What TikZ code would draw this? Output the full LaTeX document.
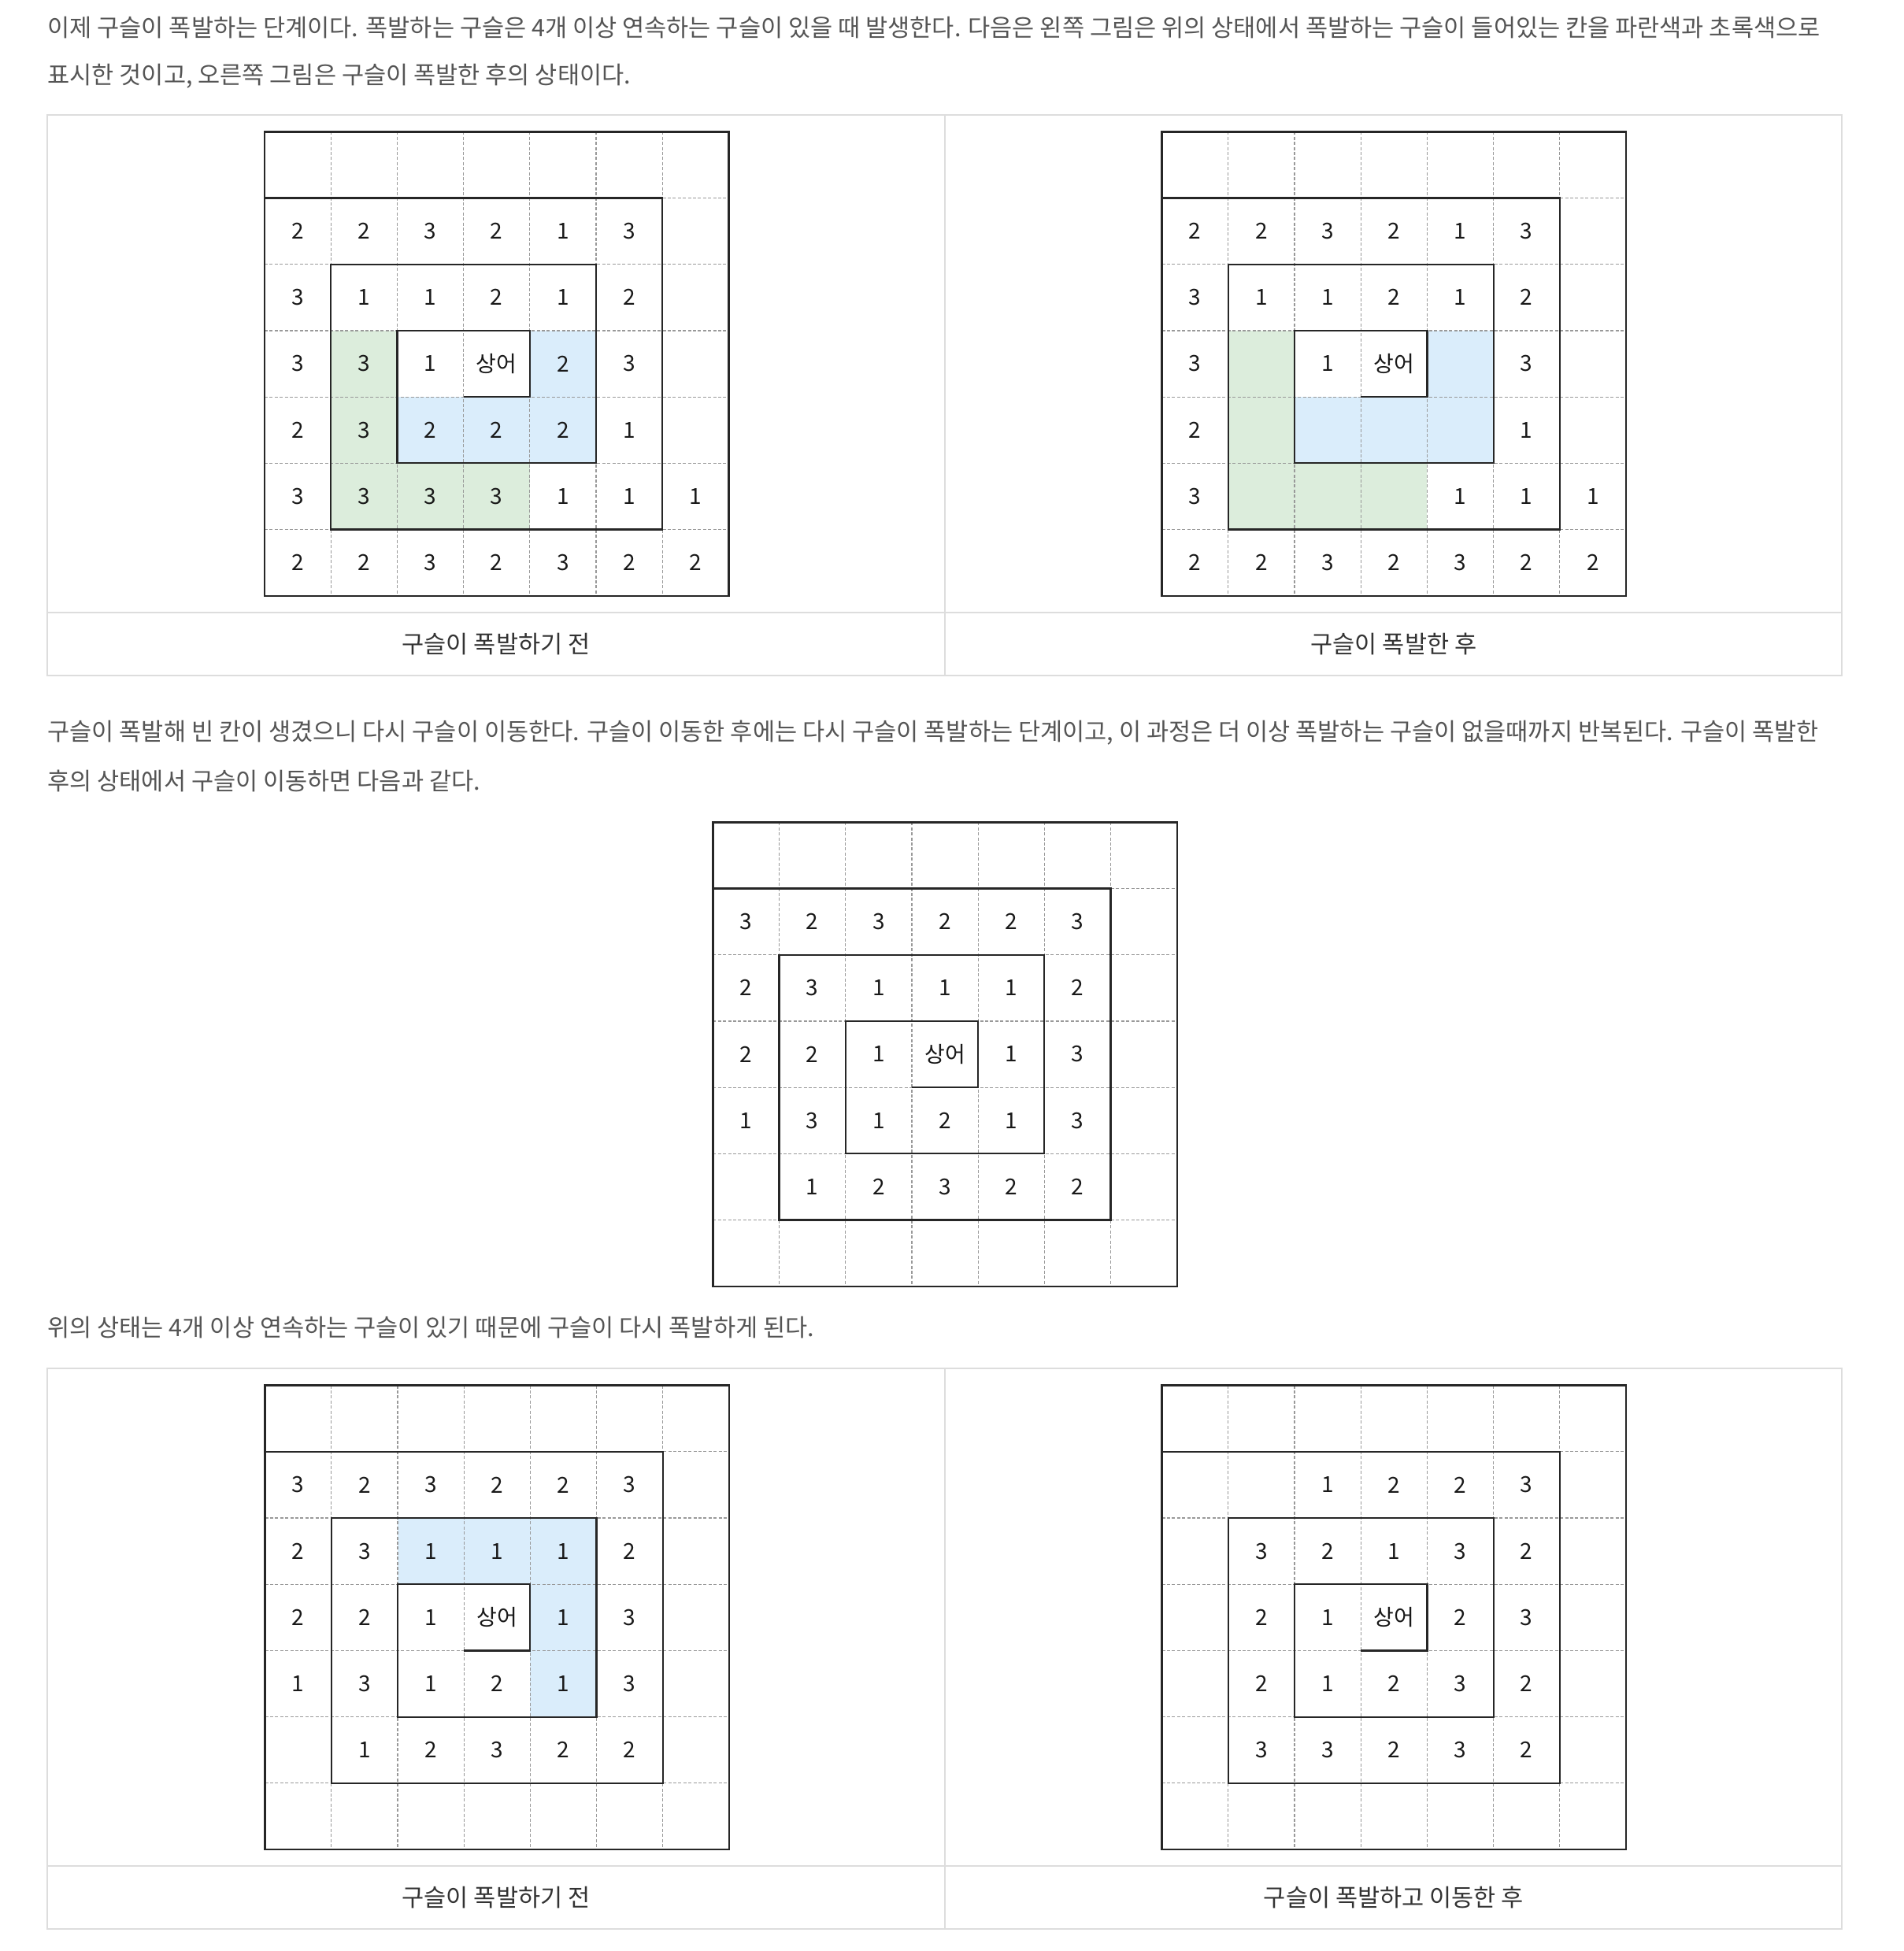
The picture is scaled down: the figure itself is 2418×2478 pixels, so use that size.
\documentclass[tikz,border=0pt]{standalone}
\usepackage{fontspec}
\setmainfont{Noto Sans CJK KR}
\usepackage{xcolor}
\usepackage{tikz}

\definecolor{bodytext}{HTML}{555555}
\definecolor{tableline}{HTML}{DDDDDD}
\definecolor{boomgreen}{HTML}{DCEDDC}
\definecolor{boomblue}{HTML}{DAEDFB}

\begin{document}
\begin{tikzpicture}[x=0.5pt, y=-0.5pt,
  para/.style={anchor=west, inner sep=0, text=bodytext, font=\fontsize{15.3}{17}\selectfont},
  caption/.style={text=black!80, font=\fontsize{15.3}{17}\selectfont},
  frame/.style={draw=tableline, line width=1.2pt},
  cellnum/.style={inner sep=0, text=black!90, font=\fontsize{14}{16}\selectfont},
  dashgrid/.style={draw=black!40, line width=0.6pt, dash pattern=on 2pt off 1.2pt},
  ring/.style={draw=black!85, line width=1.1pt}]
\useasboundingbox (0,0) rectangle (2418,2478);

% Text above the first table
\node[para] (line1) at (60,35) {이제 구슬이 폭발하는 단계이다. 폭발하는 구슬은 4개 이상 연속하는 구슬이 있을 때 발생한다. 다음은 왼쪽 그림은 위의 상태에서 폭발하는 구슬이 들어있는 칸을 파란색과 초록색으로};
\node[para] (line2) at (60,97) {표시한 것이고, 오른쪽 그림은 구슬이 폭발한 후의 상태이다.};

% Tables
\foreach \ty/\cy in {145.8/778, 1738/2370} {
    \draw[frame] (60,\ty) rectangle (2339,\ty+712);
    \draw[frame] (60,\cy) -- (2339,\cy);
    \draw[frame] (1200,\ty) -- (1200,\ty+712);
}
\node[caption] (cap1) at (630,818) {구슬이 폭발하기 전};
\node[caption] (cap2) at (1770,818) {구슬이 폭발한 후};
\node[caption] (cap3) at (630,2410) {구슬이 폭발하기 전};
\node[caption] (cap4) at (1770,2410) {구슬이 폭발하고 이동한 후};

% Text between the tables
\node[para] (line3) at (60,931) {구슬이 폭발해 빈 칸이 생겼으니 다시 구슬이 이동한다. 구슬이 이동한 후에는 다시 구슬이 폭발하는 단계이고, 이 과정은 더 이상 폭발하는 구슬이 없을때까지 반복된다. 구슬이 폭발한};
\node[para] (line4) at (60,992) {후의 상태에서 구슬이 이동하면 다음과 같다.};
\node[para] (line5) at (60,1686) {위의 상태는 4개 이상 연속하는 구슬이 있기 때문에 구슬이 다시 폭발하게 된다.};

% Exploding cells
\foreach \gx/\gy in {336/167.3, 1475.6/167.3} {
    \begin{scope}[shift={(\gx,\gy)}, x=42.1pt, y=-42.1pt]
        \foreach \c/\r in {1/3, 1/4, 1/5, 2/5, 3/5}
            \fill[boomgreen] (\c,\r) rectangle ++(1,1);
        \foreach \c/\r in {4/3, 2/4, 3/4, 4/4}
            \fill[boomblue] (\c,\r) rectangle ++(1,1);
    \end{scope}
}
\begin{scope}[shift={(336.5,1759.6)}, x=42.1pt, y=-42.1pt]
    \foreach \c/\r in {2/2, 3/2, 4/2, 4/3, 4/4}
        \fill[boomblue] (\c,\r) rectangle ++(1,1);
\end{scope}

% Grids
\foreach \gx/\gy in {336/167.3, 1475.6/167.3, 905.3/1044.3, 336.5/1759.6, 1475.6/1759.6} {
    \begin{scope}[shift={(\gx,\gy)}, x=42.1pt, y=-42.1pt]
        \foreach \i in {1,...,6} {
            \draw[dashgrid] (\i,0) -- (\i,7);
            \draw[dashgrid] (0,\i) -- (7,\i);
        }
        \draw[ring] (0,1) -- (6,1) -- (6,6) -- (1,6) -- (1,2) -- (5,2) -- (5,5)
            -- (2,5) -- (2,3) -- (4,3) -- (4,4) -- (3,4);
        \draw[ring, line width=1.2pt] (0,0) rectangle (7,7);
    \end{scope}
}

% Marbles before the explosion
\begin{scope}[shift={(336,167.3)}, x=42.1pt, y=-42.1pt]
    \foreach \row [count=\r] in {{2,2,3,2,1,3}, {3,1,1,2,1,2}, {3,3,1,상어,2,3},
        {2,3,2,2,2,1}, {3,3,3,3,1,1,1}, {2,2,3,2,3,2,2}}
        \foreach \v [count=\c from 0] in \row
            \node[cellnum] (a-\c-\r) at (\c+0.5,\r+0.5) {\v};
\end{scope}

% Marbles after the explosion
\begin{scope}[shift={(1475.6,167.3)}, x=42.1pt, y=-42.1pt]
    \foreach \row [count=\r] in {{2,2,3,2,1,3}, {3,1,1,2,1,2}, {3,{},1,상어,{},3},
        {2,{},{},{},{},1}, {3,{},{},{},1,1,1}, {2,2,3,2,3,2,2}}
        \foreach \v [count=\c from 0] in \row
            \node[cellnum] (b-\c-\r) at (\c+0.5,\r+0.5) {\v};
\end{scope}

% Marbles after moving
\foreach \gx/\gy/\g in {905.3/1044.3/c, 336.5/1759.6/d} {
    \begin{scope}[shift={(\gx,\gy)}, x=42.1pt, y=-42.1pt]
        \foreach \row [count=\r] in {{3,2,3,2,2,3}, {2,3,1,1,1,2}, {2,2,1,상어,1,3},
            {1,3,1,2,1,3}, {{},1,2,3,2,2}}
            \foreach \v [count=\c from 0] in \row
                \node[cellnum] (\g-\c-\r) at (\c+0.5,\r+0.5) {\v};
    \end{scope}
}

% Marbles after the second explosion and move
\begin{scope}[shift={(1475.6,1759.6)}, x=42.1pt, y=-42.1pt]
    \foreach \row [count=\r] in {{{},{},1,2,2,3}, {{},3,2,1,3,2}, {{},2,1,상어,2,3},
        {{},2,1,2,3,2}, {{},3,3,2,3,2}}
        \foreach \v [count=\c from 0] in \row
            \node[cellnum] (e-\c-\r) at (\c+0.5,\r+0.5) {\v};
\end{scope}
\end{tikzpicture}
\end{document}
